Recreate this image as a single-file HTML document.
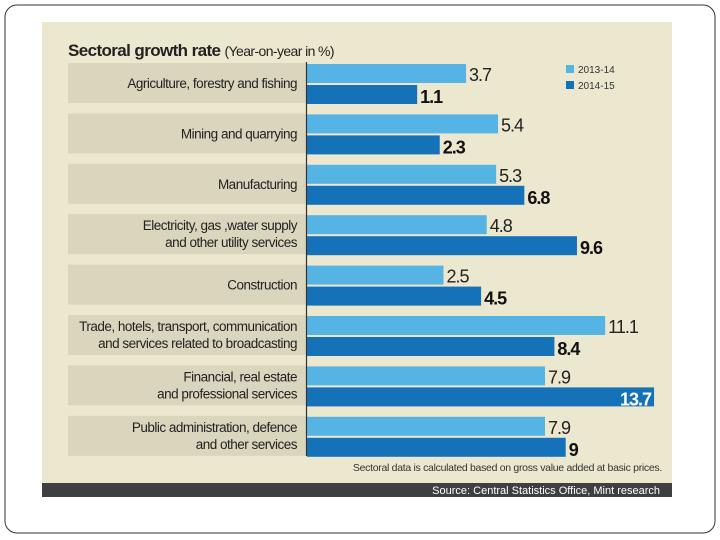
<!DOCTYPE html>
<html><head><meta charset="utf-8"><style>
body{margin:0;background:#fff;}
svg{display:block;font-family:"Liberation Sans",sans-serif;}
</style></head><body>
<svg width="720" height="540" viewBox="0 0 720 540">
<rect x="5" y="5" width="710" height="528" rx="12" fill="#fff" stroke="#333" stroke-width="1"/>
<rect x="42" y="22" width="630" height="475" fill="#ece7cf"/>
<text x="68" y="56" font-size="17" font-weight="bold" fill="#222" letter-spacing="-0.6">Sectoral growth rate <tspan font-weight="normal" font-size="14">(Year-on-year in %)</tspan></text>
<g id="legend">
<rect x="566" y="65" width="8" height="8" fill="#56b4e5"/>
<text x="578" y="73" font-size="10" fill="#333">2013-14</text>
<rect x="566" y="81" width="8" height="8" fill="#1672b8"/>
<text x="578" y="89" font-size="10" fill="#333">2014-15</text>
</g>
<g id="plot"></g>
<line x1="306.5" y1="62" x2="306.5" y2="456" stroke="#333" stroke-width="1.2"/>
<text x="662" y="471" font-size="10.5" fill="#333" text-anchor="end" letter-spacing="-0.3">Sectoral data is calculated based on gross value added at basic prices.</text>
<rect x="42" y="483" width="630" height="14" fill="#3f3f3f"/>
<text x="660" y="494" font-size="11" fill="#fff" text-anchor="end">Source: Central Statistics Office, Mint research</text>
</svg>
<script>
const categories = [
 ["Agriculture, forestry and fishing"],
 ["Mining and quarrying"],
 ["Manufacturing"],
 ["Electricity, gas ,water supply","and other utility services"],
 ["Construction"],
 ["Trade, hotels, transport, communication","and services related to broadcasting"],
 ["Financial, real estate","and professional services"],
 ["Public administration, defence","and other services"]
];
const values2013 = [3.7,5.4,5.3,4.8,2.5,11.1,7.9,7.9];
const values2014 = [1.1,2.3,6.8,9.6,4.5,8.4,13.7,9];
const labels2013 = ["3.7","5.4","5.3","4.8","2.5","11.1","7.9","7.9"];
const labels2014 = ["1.1","2.3","6.8","9.6","4.5","8.4","13.7","9"];

const NS="http://www.w3.org/2000/svg";
const g=document.getElementById('plot');
const x=v=>396.5+v*18.8;
const top0=63, step=50.4, barStart=307;
function el(t,a){const e=document.createElementNS(NS,t);for(const k in a)e.setAttribute(k,a[k]);g.appendChild(e);return e;}
categories.forEach((c,i)=>{
 const t=top0+i*step;
 const band=el('rect',{x:68,y:t,width:238,height:40,fill:'#dad5bd'});
 
 
 c.forEach((line,j)=>{
  const ty = c.length===1 ? t+25 : t+16+j*17;
  const tx=el('text',{x:297,y:ty,'font-size':13.5,'text-anchor':'end',fill:'#222','letter-spacing':'-0.5'});
  tx.textContent=line;
  
  
 });
 const w1=x(values2013[i])-barStart;
 const b1=el('rect',{x:barStart,y:t+1,width:Math.max(0,w1),height:19,fill:'#56b4e5'});
 
 
 const l1=el('text',{x:x(values2013[i])+3,y:t+18,'font-size':18,fill:'#222','letter-spacing':'-1'});
 l1.textContent=labels2013[i];
 
 
 const w2=x(values2014[i])-barStart;
 const b2=el('rect',{x:barStart,y:t+22,width:Math.max(0,w2),height:19,fill:'#1672b8'});
 
 
 const inside = values2014[i]>12;
 const l2=el('text',{x: inside? x(values2014[i])-3 : x(values2014[i])+3,y:t+40,'font-size':18,'font-weight':'bold',fill: inside?'#fff':'#111','text-anchor': inside?'end':'start','letter-spacing':'-1'});
 l2.textContent=labels2014[i];
 
 
});
</script>
</body></html>
